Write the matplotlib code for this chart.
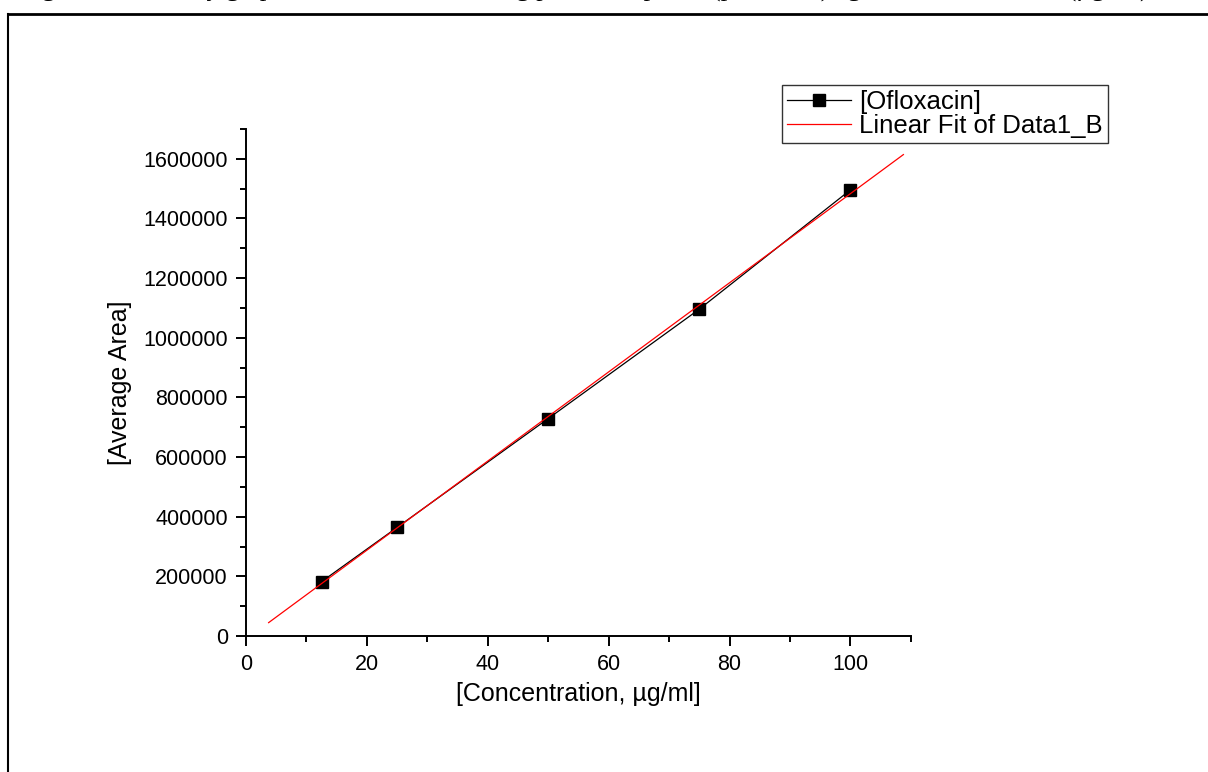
import numpy as np
import matplotlib
matplotlib.use("Agg")
import matplotlib.pyplot as plt
from matplotlib.lines import Line2D
from matplotlib.ticker import MultipleLocator

# Data
concentration = [12.5, 25, 50, 75, 100]
average_area = [182000, 364000, 729000, 1096000, 1496000]
series_label = "[Ofloxacin]"
fit_label = "Linear Fit of Data1_B"
caption = ("Figure 2: Linearity graph of Ofloxacin, showing plot of response "
           "(peak area) against concentration (\u00b5g/ml)")

plt.rcParams["font.family"] = ["Liberation Sans", "DejaVu Sans"]

fig = plt.figure(figsize=(12.08, 7.72), dpi=100)
ax = fig.add_axes([0.2036, 0.1762, 0.5505, 0.6567])

# Linear fit (extended 10% each side like Origin does)
slope, intercept = np.polyfit(concentration, average_area, 1)
span = concentration[-1] - concentration[0]
fit_x = np.array([concentration[0] - 0.1 * span, concentration[-1] + 0.1 * span])
fit_y = slope * fit_x + intercept

ax.plot(concentration, average_area, color="black", lw=0.9, marker="s",
        markersize=8, markeredgecolor="black", label=series_label, zorder=3)
ax.plot(fit_x, fit_y, color="red", lw=0.9, label=fit_label, zorder=4)

ax.set_xlim(0, 110)
ax.set_ylim(0, 1700000)
ax.xaxis.set_major_locator(MultipleLocator(20))
ax.xaxis.set_minor_locator(MultipleLocator(10))
ax.yaxis.set_major_locator(MultipleLocator(200000))
ax.yaxis.set_minor_locator(MultipleLocator(100000))
ax.ticklabel_format(axis="y", style="plain", useOffset=False)

for side in ["top", "right"]:
    ax.spines[side].set_visible(False)
for side in ["left", "bottom"]:
    ax.spines[side].set_linewidth(1.4)

ax.tick_params(which="major", direction="out", length=7, width=1.4,
               labelsize=15.5, pad=6)
ax.tick_params(which="minor", direction="out", length=4, width=1.4)

ax.set_xlabel("[Concentration, \u00b5g/ml]", fontsize=18, labelpad=5)
ax.set_ylabel("[Average Area]", fontsize=18, labelpad=8)

leg = ax.legend(loc="upper left", bbox_to_anchor=(0.806, 1.087), fontsize=18.5,
                frameon=True, fancybox=False, borderpad=0.2, labelspacing=0.0,
                handlelength=2.5, handletextpad=0.3, borderaxespad=0)
leg.get_frame().set_edgecolor("black")
leg.get_frame().set_linewidth(1.0)

# Page elements: caption clipped by the page top, and table borders
fig.text(20 / 1208, 1 + 3 / 772, caption, family="Liberation Serif",
         fontsize=19, va="baseline", ha="left")
fig.add_artist(Line2D([8 / 1208, 1], [1 - 14 / 772, 1 - 14 / 772],
                      transform=fig.transFigure, color="black", lw=2))
fig.add_artist(Line2D([8 / 1208, 8 / 1208], [0, 1 - 14 / 772],
                      transform=fig.transFigure, color="black", lw=1.5))

fig.savefig("out.png", dpi=100)
plt.close(fig)
